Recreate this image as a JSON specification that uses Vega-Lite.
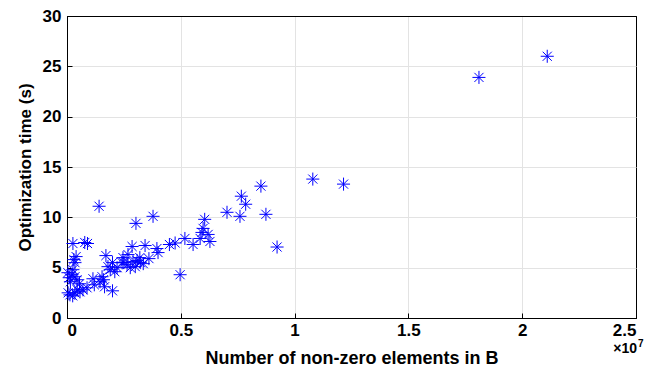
{
  "$schema": "https://vega.github.io/schema/vega-lite/v6.json",
  "width": 569,
  "height": 302,
  "autosize": {"type": "none"},
  "padding": {"left": 67, "top": 16, "right": 28, "bottom": 55},
  "background": "white",
  "config": {
    "view": {"stroke": "black", "strokeWidth": 1},
    "axis": {
      "labelFont": "Liberation Sans",
      "labelFontWeight": "bold",
      "labelColor": "black",
      "titleFont": "Liberation Sans",
      "titleFontWeight": "bold",
      "titleColor": "black",
      "domainColor": "black",
      "tickColor": "black",
      "tickSize": -5,
      "gridColor": {"condition": {"test": "datum.value === 0 || datum.value === 30 || datum.value === 25000000", "value": "black"}, "value": "#e3e3e3"}
    }
  },
  "layer": [
    {
      "data": {
        "values": [
          {"nnz": 21100000, "time": 26.0},
          {"nnz": 18100000, "time": 23.9},
          {"nnz": 12150000, "time": 13.3},
          {"nnz": 10800000, "time": 13.8},
          {"nnz": 9230000, "time": 7.05},
          {"nnz": 8740000, "time": 10.3},
          {"nnz": 8520000, "time": 13.1},
          {"nnz": 7850000, "time": 11.3},
          {"nnz": 7660000, "time": 12.1},
          {"nnz": 7600000, "time": 10.1},
          {"nnz": 7030000, "time": 10.5},
          {"nnz": 6050000, "time": 9.8},
          {"nnz": 5980000, "time": 8.9},
          {"nnz": 6200000, "time": 8.3},
          {"nnz": 6280000, "time": 7.6},
          {"nnz": 5850000, "time": 7.9},
          {"nnz": 5930000, "time": 8.5},
          {"nnz": 5540000, "time": 7.3},
          {"nnz": 5180000, "time": 7.9},
          {"nnz": 4970000, "time": 4.3},
          {"nnz": 4750000, "time": 7.45},
          {"nnz": 4500000, "time": 7.3},
          {"nnz": 4000000, "time": 6.5},
          {"nnz": 3950000, "time": 6.9},
          {"nnz": 3780000, "time": 10.1},
          {"nnz": 3430000, "time": 7.2},
          {"nnz": 3030000, "time": 9.4},
          {"nnz": 2860000, "time": 7.1},
          {"nnz": 2680000, "time": 6.3},
          {"nnz": 2900000, "time": 5.6},
          {"nnz": 3080000, "time": 5.7},
          {"nnz": 3220000, "time": 5.5},
          {"nnz": 3350000, "time": 5.4},
          {"nnz": 3600000, "time": 5.9},
          {"nnz": 3000000, "time": 5.1},
          {"nnz": 2780000, "time": 5.0},
          {"nnz": 2640000, "time": 5.3},
          {"nnz": 2460000, "time": 6.0},
          {"nnz": 2420000, "time": 5.5},
          {"nnz": 2100000, "time": 4.6},
          {"nnz": 1900000, "time": 4.8},
          {"nnz": 1800000, "time": 5.1},
          {"nnz": 2000000, "time": 5.5},
          {"nnz": 1710000, "time": 6.2},
          {"nnz": 1540000, "time": 4.1},
          {"nnz": 1450000, "time": 3.6},
          {"nnz": 1650000, "time": 3.1},
          {"nnz": 2000000, "time": 2.7},
          {"nnz": 1140000, "time": 3.9},
          {"nnz": 1410000, "time": 11.1},
          {"nnz": 880000, "time": 3.0},
          {"nnz": 700000, "time": 2.8},
          {"nnz": 570000, "time": 2.6},
          {"nnz": 350000, "time": 2.5},
          {"nnz": 130000, "time": 2.3},
          {"nnz": 40000, "time": 4.5},
          {"nnz": 220000, "time": 4.3},
          {"nnz": 350000, "time": 4.1},
          {"nnz": 260000, "time": 4.8},
          {"nnz": 440000, "time": 3.8},
          {"nnz": 260000, "time": 7.4},
          {"nnz": 780000, "time": 7.5},
          {"nnz": 900000, "time": 7.4},
          {"nnz": 300000, "time": 5.8},
          {"nnz": 350000, "time": 5.5},
          {"nnz": 150000, "time": 3.6},
          {"nnz": 100000, "time": 4.0},
          {"nnz": 450000, "time": 2.8},
          {"nnz": 550000, "time": 3.4},
          {"nnz": 400000, "time": 6.1},
          {"nnz": 1200000, "time": 3.3},
          {"nnz": 2200000, "time": 5.0},
          {"nnz": 2500000, "time": 5.5},
          {"nnz": 3200000, "time": 6.0},
          {"nnz": 50000, "time": 2.5},
          {"nnz": 250000, "time": 2.2},
          {"nnz": 1600000, "time": 3.8}
        ]
      },
      "mark": {
        "type": "point",
        "shape": "M-1,0L1,0M0,-1L0,1M-0.7,-0.7L0.7,0.7M-0.7,0.7L0.7,-0.7",
        "filled": false,
        "color": "#0000ff",
        "strokeWidth": 1,
        "size": 170,
        "opacity": 1
      },
      "encoding": {
        "x": {
          "field": "nnz",
          "type": "quantitative",
          "scale": {"domain": [0, 25000000], "nice": false},
          "axis": {
            "values": [0, 5000000, 10000000, 15000000, 20000000, 25000000],
            "labelExpr": "datum.value / 10000000",
            "title": "Number of non-zero elements in B",
            "labelFontSize": 17,
            "titleFontSize": 18,
            "labelPadding": 9,
            "titlePadding": 11
          }
        },
        "y": {
          "field": "time",
          "type": "quantitative",
          "scale": {"domain": [0, 30], "nice": false},
          "axis": {
            "values": [0, 5, 10, 15, 20, 25, 30],
            "title": "Optimization time (s)",
            "labelFontSize": 17,
            "titleFontSize": 17,
            "labelPadding": 11,
            "titlePadding": 8
          }
        }
      }
    },
    {
      "data": {"values": [{"label": "×10"}]},
      "mark": {
        "type": "text",
        "font": "Liberation Sans",
        "fontWeight": "bold",
        "fontSize": 14,
        "color": "black",
        "align": "right",
        "baseline": "middle",
        "dx": 1,
        "dy": 31
      },
      "encoding": {
        "text": {"field": "label"},
        "x": {"datum": 25000000},
        "y": {"datum": 0}
      }
    },
    {
      "data": {"values": [{"label": "7"}]},
      "mark": {
        "type": "text",
        "font": "Liberation Sans",
        "fontWeight": "bold",
        "fontSize": 10,
        "color": "black",
        "align": "left",
        "baseline": "middle",
        "dx": 2,
        "dy": 26
      },
      "encoding": {
        "text": {"field": "label"},
        "x": {"datum": 25000000},
        "y": {"datum": 0}
      }
    }
  ]
}
